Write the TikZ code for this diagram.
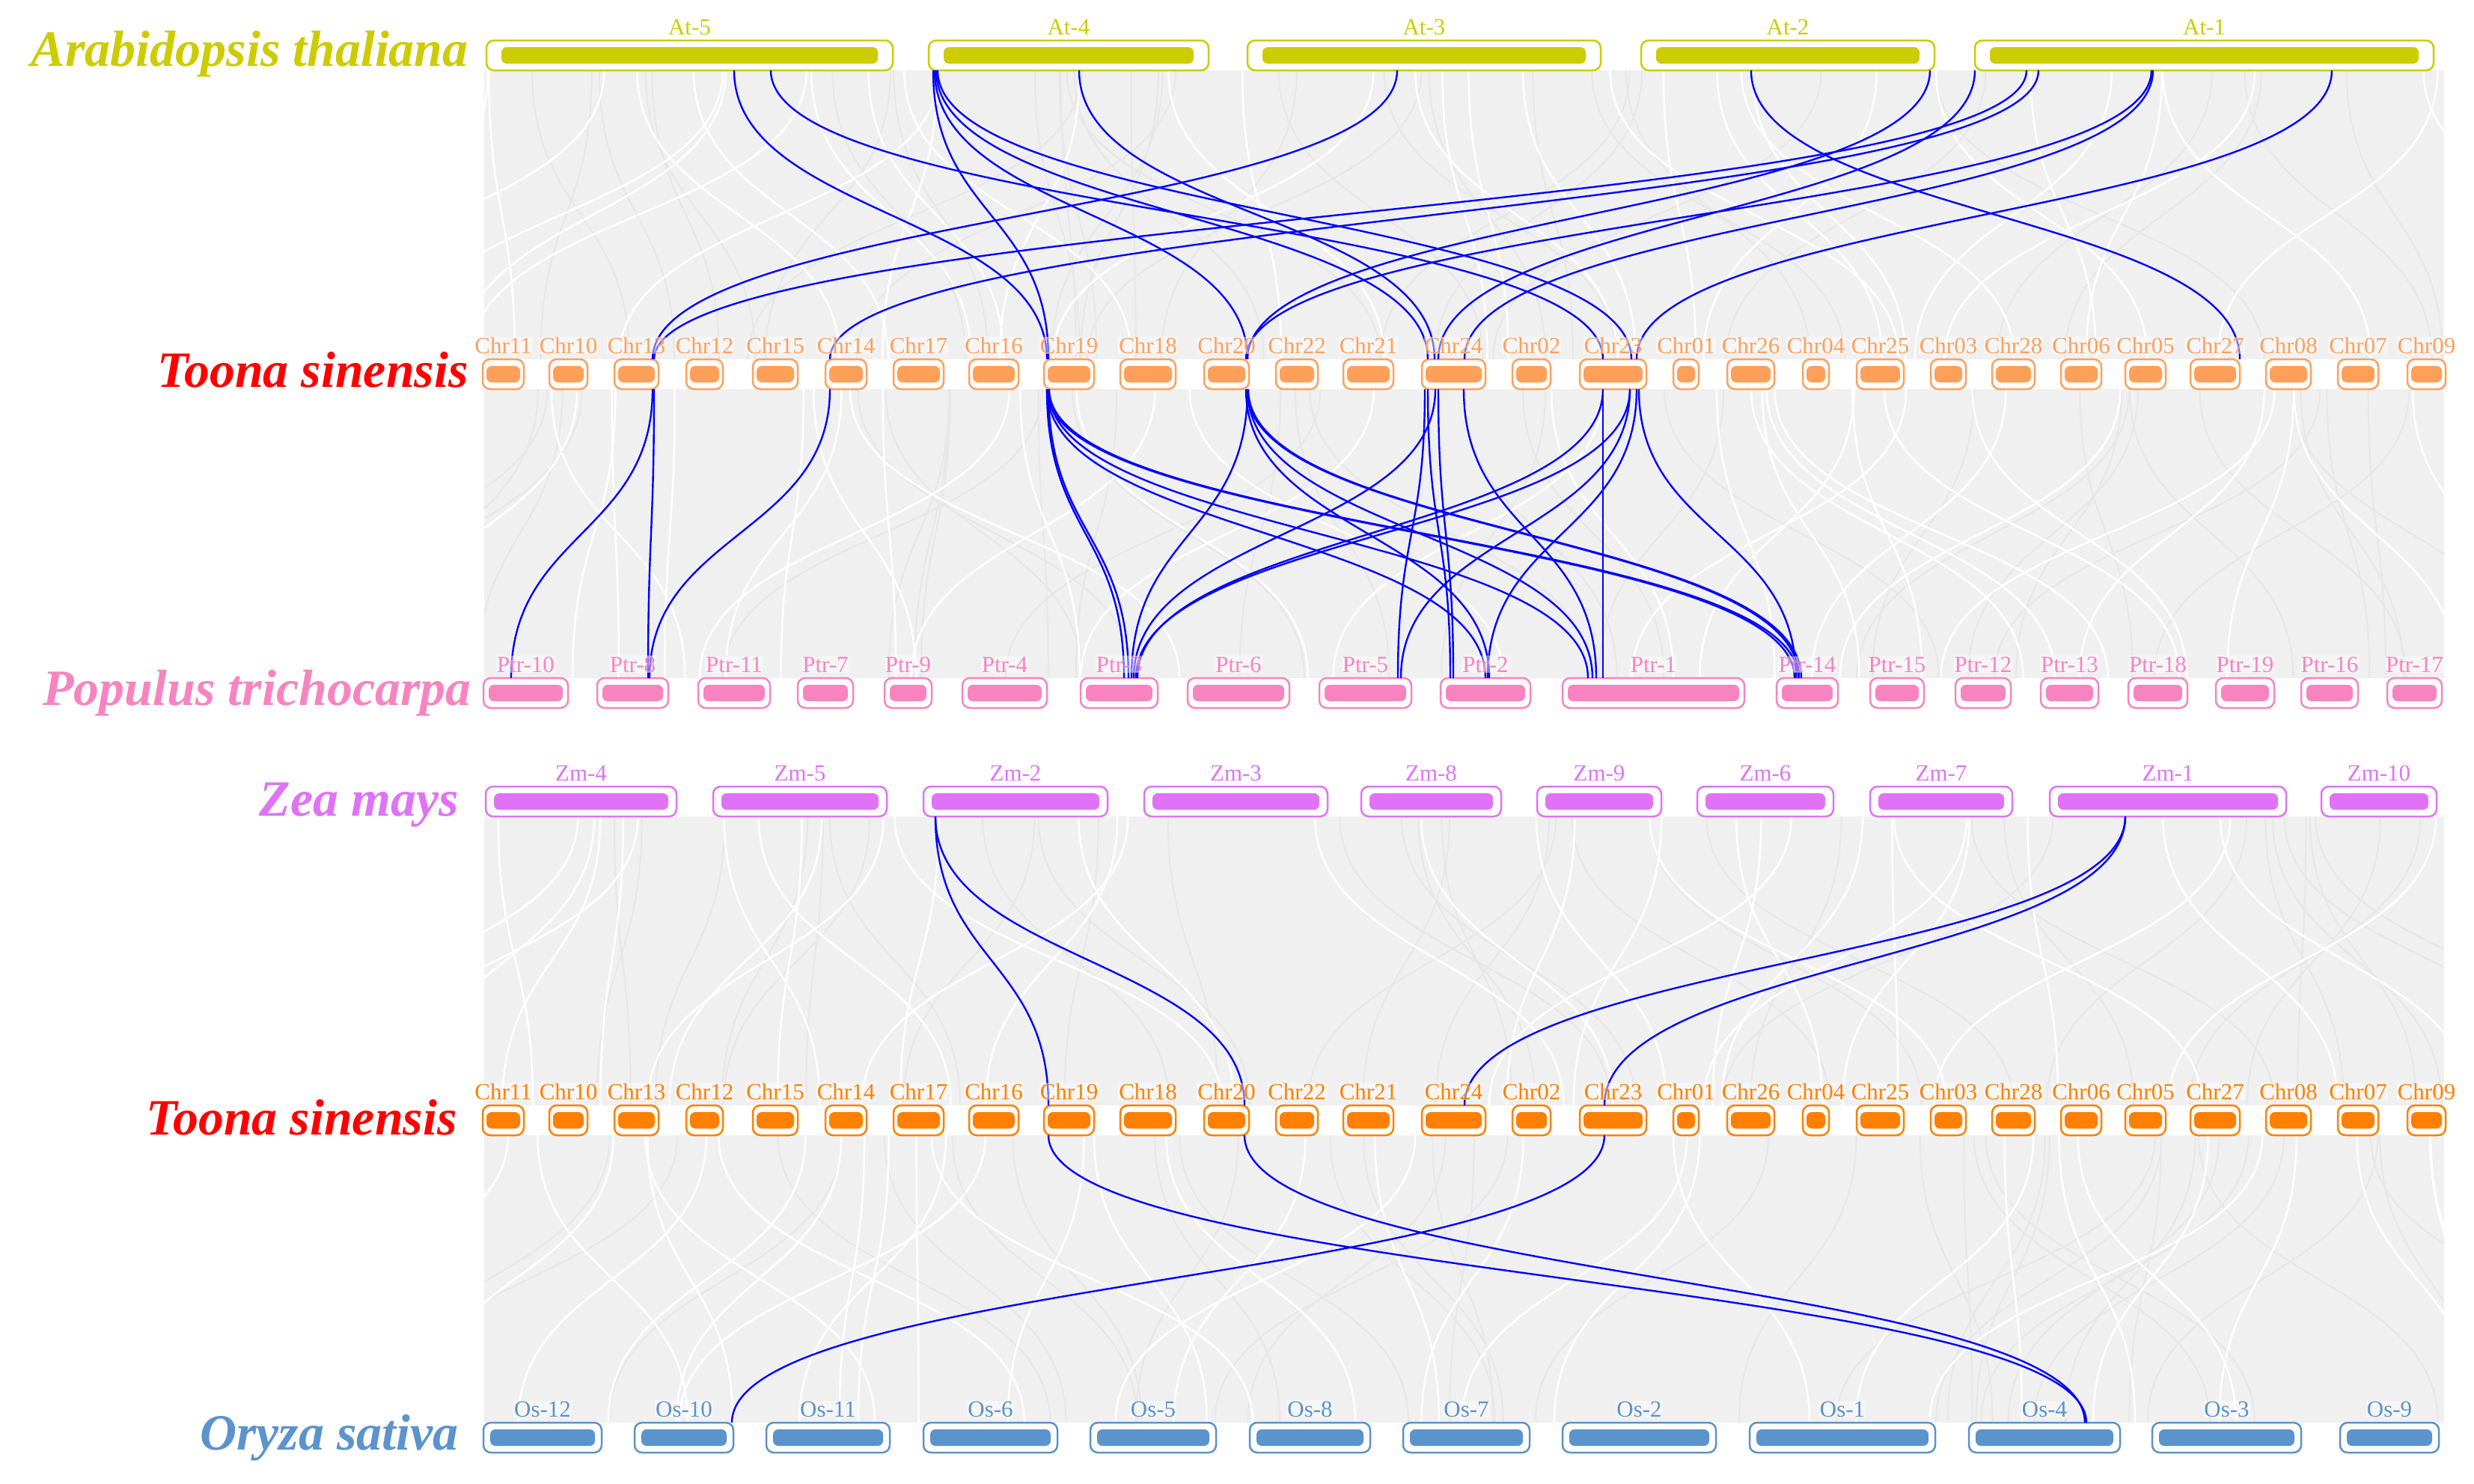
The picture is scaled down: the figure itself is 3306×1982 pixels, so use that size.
\documentclass[tikz,border=0pt]{standalone}
\usepackage{fontspec}
\setmainfont{Liberation Serif}
\usetikzlibrary{calc}
\definecolor{atC}{RGB}{204,204,0}
\definecolor{taC}{RGB}{255,160,90}
\definecolor{tbC}{RGB}{255,128,0}
\definecolor{pC}{RGB}{247,132,192}
\definecolor{zC}{RGB}{224,115,245}
\definecolor{oC}{RGB}{91,147,205}
\definecolor{ribC}{RGB}{240,240,240}
\definecolor{ribD}{RGB}{231,231,231}
\definecolor{linkC}{RGB}{0,0,255}
\tikzset{
  chrbox/.style={rounded corners=10pt, line width=2.5pt, fill=white, minimum height=40pt, inner sep=0pt, outer sep=0pt},
  chrlab/.style={anchor=base, inner sep=1pt, font=\fontsize{31}{31}\selectfont, fill=white, fill opacity=0.45, text opacity=1},
  spec/.style={anchor=base east, inner sep=0pt, font=\fontsize{68}{70}\selectfont\bfseries\itshape},
  ribgap/.style={draw=white, line width=2.5pt},
  ribdark/.style={draw=ribD, line width=2pt},
  blink/.style={draw=linkC, line width=2.4pt},
}
\newcommand\chrom[7]{%
  \pgfmathsetmacro\cx{(#2+#3)/2}\pgfmathsetmacro\ww{#3-#2}%
  \node[chrbox, draw=#6, minimum width=\ww pt] (#1) at (\cx,#4) {};
  \fill[#6, rounded corners=7pt] ([xshift=#7pt, yshift=9pt]#1.south west) rectangle ([xshift=-#7pt, yshift=-9pt]#1.north east);
}
\newcommand\chlab[3]{\node[chrlab, text=#3] (#1-lab) at ([yshift=8pt]#1.north) {#2};}
\newcommand\lk[4]{%
  \coordinate (lka) at (#2,0); \coordinate (lkb) at (#4,0);
  \draw[blink] (#1.south -| lka) .. controls +(0,193) and +(0,-193) .. (#3.north -| lkb);}
\newcommand\ribbons[3]{% y top, y bottom, count
  \begin{scope}
  \clip (647,#1) rectangle (3266,#2);
  \fill[ribC] (647,#1) rectangle (3266,#2);
  \pgfmathsetmacro\ym{(#1+#2)/2}
  \foreach \i in {1,...,#3}{
    \pgfmathsetmacro\xa{650+2610*rnd}
    \pgfmathsetmacro\xb{\xa+900*(rnd-0.5)}
    \draw[ribdark] (\xa,#1) .. controls (\xa,\ym) and (\xb,\ym) .. (\xb,#2);
  }
  \foreach \i in {1,...,#3}{
    \pgfmathsetmacro\xa{650+2610*rnd}
    \pgfmathsetmacro\xb{\xa+900*(rnd-0.5)}
    \draw[ribgap] (\xa,#1) .. controls (\xa,\ym) and (\xb,\ym) .. (\xb,#2);
  }
  \end{scope}}
\begin{document}
\begin{tikzpicture}[x=1pt,y=-1pt]
\fill[white] (0,0) rectangle (3306,1982);
\useasboundingbox (0,0) rectangle (3306,1982);
\pgfmathsetseed{4242}
\ribbons{94}{480}{35}
\ribbons{520}{906}{35}
\ribbons{1091}{1477}{35}
\ribbons{1517}{1901}{35}
% species labels
\node[spec, text=atC] (sp-at) at (626,88) {Arabidopsis thaliana};
\node[spec, text=red] (sp-ta) at (626,517) {Toona sinensis};
\node[spec, text=pC] (sp-p) at (630,942) {Populus trichocarpa};
\node[spec, text=zC] (sp-z) at (613,1090) {Zea mays};
\node[spec, text=red] (sp-tb) at (611,1516) {Toona sinensis};
\node[spec, text=oC] (sp-o) at (613,1937) {Oryza sativa};
% chromosomes
\foreach \n/\a/\b in {5/650/1193,4/1241/1615,3/1667/2139,2/2193/2585,1/2639/3252}
  {\chrom{at\n}{\a}{\b}{74}{At-\n}{atC}{20}}
\foreach \n/\a/\b in {11/645/700,10/734/785,13/821/880,12/917/966,15/1006/1066,14/1103/1158,17/1194/1261,16/1295/1361,19/1395/1462,18/1497/1571,20/1609/1669,22/1705/1761,21/1795/1862,24/1900/1985,02/2021/2072,23/2111/2200,01/2236/2270,26/2308/2371,04/2409/2444,25/2481/2544,03/2580/2627,28/2662/2719,06/2754/2808,05/2840/2894,27/2927/2993,08/3028/3088,07/3124/3178,09/3217/3268}
  {\chrom{ta\n}{\a}{\b}{500}{Chr\n}{taC}{5}
   \chrom{tb\n}{\a}{\b}{1497}{Chr\n}{tbC}{5}}
\foreach \n/\a/\b in {10/646/759,8/798/893,11/933/1029,7/1066/1140,9/1182/1245,4/1286/1399,3/1444/1547,6/1587/1723,5/1763/1886,2/1925/2045,1/2088/2331,14/2374/2456,15/2499/2571,12/2613/2687,13/2727/2804,18/2844/2923,19/2961/3039,16/3075/3151,17/3190/3263}
  {\chrom{p\n}{\a}{\b}{926}{Ptr-\n}{pC}{7}}
\foreach \n/\a/\b in {4/649/904,5/953/1185,2/1234/1480,3/1529/1774,8/1819/2006,9/2054/2220,6/2268/2450,7/2499/2689,1/2739/3055,10/3102/3256}
  {\chrom{zm\n}{\a}{\b}{1071}{Zm-\n}{zC}{11}}
\foreach \n/\a/\b in {12/646/804,10/848/980,11/1024/1189,6/1234/1413,5/1457/1625,8/1670/1831,7/1875/2044,2/2088/2293,1/2338/2586,4/2631/2833,3/2876/3075,9/3127/3259}
  {\chrom{os\n}{\a}{\b}{1921}{Os-\n}{oC}{9}}
% links At -> Toona
\lk{at5}{981}{ta19}{1399}
\lk{at5}{1030}{ta23}{2142}
\lk{at4}{1247}{ta19}{1401}
\lk{at4}{1249}{ta20}{1667}
\lk{at4}{1251}{ta24}{1908}
\lk{at4}{1253}{ta23}{2180}
\lk{at4}{1442}{ta24}{1917}
\lk{at3}{1867}{ta13}{872}
\lk{at2}{2340}{ta27}{2993}
\lk{at2}{2579}{ta20}{1667}
\lk{at1}{2639}{ta24}{1922}
\lk{at1}{2708}{ta13}{874}
\lk{at1}{2724}{ta14}{1109}
\lk{at1}{2875}{ta20}{1665}
\lk{at1}{2877}{ta24}{1957}
\lk{at1}{3116}{ta23}{2187}
% links Toona -> Populus
\lk{ta13}{872}{p10}{683}
\lk{ta13}{874}{p8}{866}
\lk{ta14}{1109}{p8}{868}
\lk{ta19}{1399}{p3}{1502}
\lk{ta19}{1401}{p3}{1508}
\lk{ta19}{1399}{p2}{1985}
\lk{ta19}{1401}{p1}{2122}
\lk{ta19}{1399}{p14}{2398}
\lk{ta19}{1402}{p14}{2403}
\lk{ta20}{1667}{p3}{1512}
\lk{ta20}{1665}{p2}{1990}
\lk{ta20}{1667}{p1}{2128}
\lk{ta20}{1666}{p14}{2404}
\lk{ta20}{1668}{p14}{2407}
\lk{ta24}{1904}{p5}{1868}
\lk{ta24}{1908}{p2}{1938}
\lk{ta24}{1918}{p3}{1515}
\lk{ta24}{1922}{p2}{1942}
\lk{ta24}{1956}{p1}{2133}
\lk{ta23}{2142}{p3}{1520}
\lk{ta23}{2178}{p3}{1518}
\lk{ta23}{2178}{p5}{1872}
\lk{ta23}{2187}{p2}{1988}
\lk{ta23}{2142}{p1}{2142}
\lk{ta23}{2190}{p14}{2400}
% links Zea -> Toona -> Oryza
\lk{zm2}{1250}{tb19}{1401}
\lk{zm2}{1250}{tb20}{1663}
\lk{zm1}{2840}{tb24}{1957}
\lk{zm1}{2840}{tb23}{2144}
\lk{tb19}{1401}{os4}{2788}
\lk{tb20}{1663}{os4}{2786}
\lk{tb23}{2144}{os10}{978}
% chromosome labels
\foreach \n in {5,4,3,2,1}{\chlab{at\n}{At-\n}{atC}}
\foreach \n in {11,10,13,12,15,14,17,16,19,18,20,22,21,24,02,23,01,26,04,25,03,28,06,05,27,08,07,09}
  {\chlab{ta\n}{Chr\n}{taC}\chlab{tb\n}{Chr\n}{tbC}}
\foreach \n in {10,8,11,7,9,4,3,6,5,2,1,14,15,12,13,18,19,16,17}{\chlab{p\n}{Ptr-\n}{pC}}
\foreach \n in {4,5,2,3,8,9,6,7,1,10}{\chlab{zm\n}{Zm-\n}{zC}}
\foreach \n in {12,10,11,6,5,8,7,2,1,4,3,9}{\chlab{os\n}{Os-\n}{oC}}
\end{tikzpicture}
\end{document}
